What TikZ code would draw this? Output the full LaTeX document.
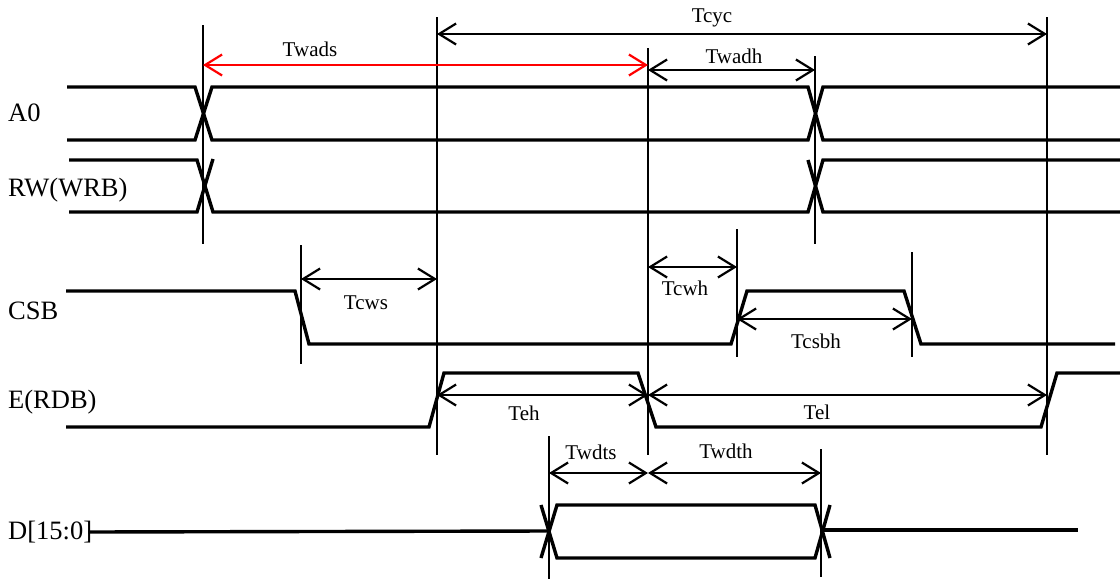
\documentclass[tikz,border=0pt]{standalone}
\usepackage{fontspec}
\setmainfont{Liberation Serif}
\usetikzlibrary{arrows.meta}
\usepackage{xcolor}

\begin{document}
\begin{tikzpicture}[x=1pt, y=-1pt,
sig/.style={line width=3.4pt, line join=miter},
markline/.style={line width=1.5pt},
dim/.style={{Straight Barb[length=17pt,width=21pt]}-{Straight Barb[length=17pt,width=21pt]}, line width=2.2pt},
tlabel/.style={font=\fontsize{21}{25}\selectfont, inner sep=0pt},
signame/.style={font=\fontsize{26.5}{31}\selectfont, inner sep=0pt, anchor=west}]
\useasboundingbox (0,0) rectangle (1120,579);

% signal names
\node[signame] (a0) at (8,113) {A0};
\node[signame] (rw) at (8,190) {RW(WRB)};
\node[signame] (csb) at (8,311) {CSB};
\node[signame] (e) at (8,402) {E(RDB)};
\node[signame] (d) at (8,532) {D[15:0]};

% waveforms
\draw[sig] (67,87) -- (195,87) -- (212,140) -- (808,140) -- (823,87) -- (1120,87);
\draw[sig] (67,140) -- (195,140) -- (212,87) -- (808,87) -- (823,140) -- (1120,140);

\draw[sig] (69,160) -- (197,160) -- (213,212) -- (808,212) -- (823,160) -- (1120,160);
\draw[sig] (69,212) -- (197,212) -- (213,159);
\draw[sig] (808,160) -- (823,212) -- (1120,212);

\draw[sig] (66,291) -- (295,291) -- (309,344) -- (731,344) -- (747,291) -- (904,291) -- (921,344) -- (1115,344);

\draw[sig] (66,427) -- (429,427) -- (444,373) -- (638,373) -- (656,427) -- (1041,427) -- (1057,373) -- (1120,373);

\draw[sig] ([xshift=-4pt]d.east) -- (549,531);
\draw[sig] (541,505) -- (557,558) -- (815,558) -- (830,505);
\draw[sig] (541,558) -- (557,505) -- (815,505) -- (830,558);
\draw[sig] (821,530) -- (1078,530);

% marker lines
\coordinate (v1t) at (203,25);  \coordinate (v1b) at (203,244);
\coordinate (v2t) at (437,17);  \coordinate (v2b) at (437,455);
\coordinate (v3t) at (648,48);  \coordinate (v3b) at (648,455);
\coordinate (v4t) at (815,56);  \coordinate (v4b) at (815,244);
\coordinate (v5t) at (1047,17); \coordinate (v5b) at (1047,455);
\coordinate (v6t) at (301,245); \coordinate (v6b) at (301,364);
\coordinate (v7t) at (737,229); \coordinate (v7b) at (737,357);
\coordinate (v8t) at (912,252); \coordinate (v8b) at (912,357);
\coordinate (v9t) at (549,436); \coordinate (v9b) at (549,579);
\coordinate (v10t) at (821,449); \coordinate (v10b) at (821,577);

\draw[markline] (v1t) -- (v1b);
\draw[markline] (v2t) -- (v2b);
\draw[markline] (v3t) -- (v3b);
\draw[markline] (v4t) -- (v4b);
\draw[markline] (v5t) -- (v5b);
\draw[markline] (v6t) -- (v6b);
\draw[markline] (v7t) -- (v7b);
\draw[markline] (v8t) -- (v8b);
\draw[markline] (v9t) -- (v9b);
\draw[markline] (v10t) -- (v10b);

% timing arrows
\draw[dim, red] (v1t |- 0,65) -- (v3t |- 0,65);
\draw[dim] (v2t |- 0,34) -- (v5t |- 0,34);
\draw[dim] (v3t |- 0,70) -- (v4t |- 0,70);
\draw[dim] (v6t |- 0,279) -- (v2t |- 0,279);
\draw[dim] (v3t |- 0,267) -- (v7t |- 0,267);
\draw[dim] (v7t |- 0,319) -- (v8t |- 0,319);
\draw[dim] (v2t |- 0,395) -- (v3t |- 0,395);
\draw[dim] (v3t |- 0,395) -- (v5t |- 0,395);
\draw[dim] (v9t |- 0,473) -- (v3t |- 0,473);
\draw[dim] (v3t |- 0,473) -- (v10t |- 0,473);

% timing labels
\node[tlabel] (twads) at (310,49) {Twads};
\node[tlabel] (tcyc) at (712,18) {Tcyc};
\node[tlabel] (twadh) at (734,56) {Twadh};
\node[tlabel] (tcws) at (366,303) {Tcws};
\node[tlabel] (tcwh) at (685,288) {Tcwh};
\node[tlabel] (tcsbh) at (816,341) {Tcsbh};
\node[tlabel] (teh) at (524,413) {Teh};
\node[tlabel] (tel) at (817,412) {Tel};
\node[tlabel] (twdts) at (591,452) {Twdts};
\node[tlabel] (twdth) at (726,451) {Twdth};
\end{tikzpicture}
\end{document}
